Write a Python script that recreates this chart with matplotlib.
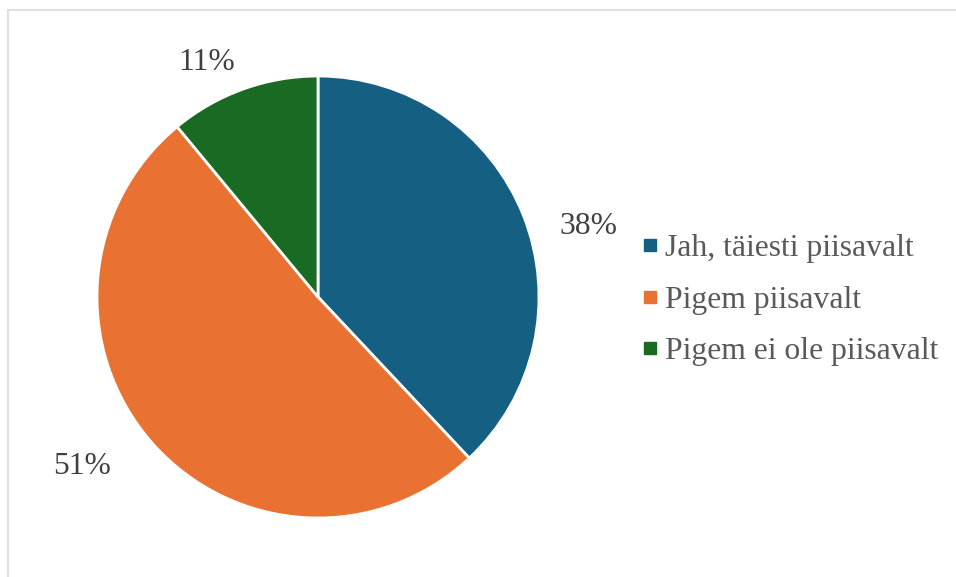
import matplotlib.pyplot as plt
from matplotlib.lines import Line2D

plt.rcParams['font.family'] = ['Liberation Serif', 'DejaVu Serif']

labels = ['Jah, täiesti piisavalt', 'Pigem piisavalt', 'Pigem ei ole piisavalt']
values = [38, 51, 11]
colors = ['#156082', '#E97132', '#196B24']
pct_text = ['38%', '51%', '11%']
pct_pos = [(1.222, 0.321), (-1.066, -0.769), (-0.502, 1.063)]

W, H = 956, 577
FS = 22.8
fig = plt.figure(figsize=(W / 100, H / 100), dpi=100)

# pie centre (318, 297) px, radius 221 px
cx, cy, r = 318, 297, 221
ax = fig.add_axes([(cx - r) / W, (H - cy - r) / H, 2 * r / W, 2 * r / H])
ax.pie(values, colors=colors, startangle=90, counterclock=False,
       wedgeprops=dict(edgecolor='white', linewidth=2))
ax.set_xlim(-1, 1)
ax.set_ylim(-1, 1)
ax.set_aspect('equal')
ax.axis('off')

for txt, (x, y) in zip(pct_text, pct_pos):
    ax.text(x, y, txt, ha='center', va='center', fontsize=FS,
            color='#404040', clip_on=False)

# chart frame (left and top edges visible)
fig.add_artist(Line2D([8 / W, 8 / W], [0, 1 - 10 / H], color='#d9d9d9',
                      lw=1.2, transform=fig.transFigure))
fig.add_artist(Line2D([8 / W, 1], [1 - 10 / H, 1 - 10 / H], color='#d9d9d9',
                      lw=1.2, transform=fig.transFigure))

handles = [Line2D([], [], marker='s', linestyle='', markersize=8,
                  markerfacecolor=c, markeredgecolor=c) for c in colors]
fig.legend(handles, labels, loc='center left', bbox_to_anchor=(614 / W, 1 - 300 / H),
           frameon=False, fontsize=FS, labelcolor='#595959',
           handlelength=0.5, handletextpad=0.21, labelspacing=0.71)

fig.savefig('out.png', dpi=100)
